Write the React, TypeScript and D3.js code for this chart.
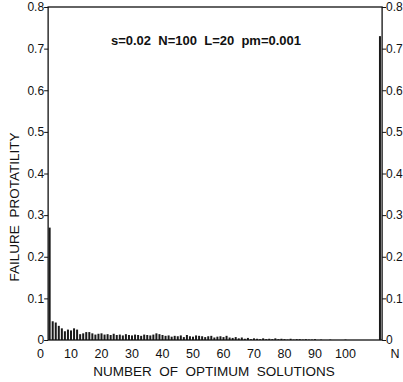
import React, { useEffect, useRef } from "react";
import * as d3 from "d3";

// number of optimum solutions (bin) and the failure probability
const solutionCounts = [
  3, 4, 5, 6, 7, 8, 9, 10, 11, 12, 13, 14, 15, 16, 17, 18, 19, 20, 21, 22, 23,
  24, 25, 26, 27, 28, 29, 30, 31, 32, 33, 34, 35, 36, 37, 38, 39, 40, 41, 42,
  43, 44, 45, 46, 47, 48, 49, 50, 51, 52, 53, 54, 55, 56, 57, 58, 59, 60, 61,
  62, 63, 64, 65, 66, 67, 68, 69, 70, 71, 72, 73, 74, 75, 76, 77, 78, 79, 80,
  81, 82, 83, 84, 85, 86, 87, 88, 89, 90, 92, 95, 100,
];
const failureProb = [
  0.27, 0.045, 0.042, 0.034, 0.028, 0.021, 0.025, 0.023, 0.028, 0.025, 0.014,
  0.016, 0.019, 0.019, 0.016, 0.013, 0.015, 0.016, 0.013, 0.014, 0.012, 0.015,
  0.012, 0.013, 0.011, 0.014, 0.012, 0.011, 0.013, 0.012, 0.01, 0.013, 0.012,
  0.011, 0.013, 0.016, 0.014, 0.012, 0.01, 0.011, 0.008, 0.01, 0.009, 0.011,
  0.007, 0.012, 0.009, 0.008, 0.011, 0.01, 0.009, 0.007, 0.009, 0.01, 0.006,
  0.008, 0.009, 0.007, 0.01, 0.006, 0.005, 0.007, 0.004, 0.006, 0.003, 0.005,
  0.002, 0.004, 0.003, 0.002, 0.004, 0.002, 0.003, 0.002, 0.004, 0.002, 0.003,
  0.002, 0.001, 0.003, 0.001, 0.002, 0.002, 0.001, 0.002, 0.001, 0.001, 0.002,
  0.001, 0.001, 0.001,
];
// the "all N solutions" bin at the far right
const nPosition = 111.3;
const nFailure = 0.73;

const xTickValues = [0, 10, 20, 30, 40, 50, 60, 70, 80, 90, 100];
const yTickValues = [0, 0.1, 0.2, 0.3, 0.4, 0.5, 0.6, 0.7, 0.8];

const title = "s=0.02  N=100  L=20  pm=0.001";
const xTitle = "NUMBER  OF  OPTIMUM  SOLUTIONS";
const yTitle = "FAILURE  PROTATILITY";

const App: React.FC = () => {
  const svgRef = useRef<SVGSVGElement | null>(null);

  useEffect(() => {
    if (!svgRef.current) return;
    const svg = d3.select(svgRef.current);
    svg.selectAll("*").remove();

    const font = "Liberation Sans, Arial, sans-serif";
    const x = d3.scaleLinear().domain([0, 100]).range([40.5, 345.5]);
    const y = d3.scaleLinear().domain([0, 0.8]).range([340, 7]);
    const left = x(2.5);
    const right = x(112);

    const data = solutionCounts.map((k, i) => ({ k, v: failureProb[i] }));
    data.push({ k: nPosition, v: nFailure });

    // bars
    svg
      .append("g")
      .selectAll("rect")
      .data(data)
      .enter()
      .append("rect")
      .attr("x", (d) => x(d.k) - 1)
      .attr("y", (d) => y(d.v))
      .attr("width", 2)
      .attr("height", (d) => y(0) - y(d.v))
      .attr("fill", "#1a1a1a");

    // frame
    svg
      .append("rect")
      .attr("x", left)
      .attr("y", y(0.8))
      .attr("width", right - left)
      .attr("height", y(0) - y(0.8))
      .attr("fill", "none")
      .attr("stroke", "#111")
      .attr("stroke-width", 1.3);

    const fmt = (d: d3.NumberValue) => (d === 0 ? "0" : d3.format(".1f")(d as number));
    const yLeft = d3.axisLeft(y).tickValues(yTickValues).tickSize(4).tickFormat(fmt);
    const yRight = d3.axisRight(y).tickValues(yTickValues).tickSize(4).tickFormat(fmt);

    const gl = svg.append("g").attr("transform", `translate(${left},0)`).call(yLeft);
    const gr = svg.append("g").attr("transform", `translate(${right},0)`).call(yRight);
    [gl, gr].forEach((g) => {
      g.select(".domain").remove();
      g.selectAll("line").attr("stroke", "#111");
      g.selectAll("text")
        .attr("font-family", font)
        .attr("font-size", 12)
        .attr("fill", "#111");
    });
    gl.selectAll("text").attr("x", -4);
    gr.selectAll("text").attr("x", 4);

    // x tick labels
    const xLabels = svg
      .append("g")
      .attr("font-family", font)
      .attr("font-size", 12.5)
      .attr("fill", "#111");
    xLabels
      .selectAll("text")
      .data(xTickValues)
      .enter()
      .append("text")
      .attr("x", (d) => x(d))
      .attr("y", 358)
      .attr("text-anchor", "middle")
      .text((d) => String(d));
    xLabels
      .append("text")
      .attr("x", x(nPosition) + 15)
      .attr("y", 358)
      .attr("text-anchor", "middle")
      .text("N");

    // titles
    svg
      .append("text")
      .attr("x", 206)
      .attr("y", 45)
      .attr("text-anchor", "middle")
      .attr("font-family", font)
      .attr("font-size", 13)
      .attr("font-weight", "bold")
      .attr("fill", "#111")
      .style("white-space", "pre")
      .text(title);

    svg
      .append("text")
      .attr("x", 214)
      .attr("y", 376)
      .attr("text-anchor", "middle")
      .attr("font-family", font)
      .attr("font-size", 13.5)
      .attr("fill", "#111")
      .style("white-space", "pre")
      .text(xTitle);

    svg
      .append("text")
      .attr("transform", "translate(19,207) rotate(-90)")
      .attr("text-anchor", "middle")
      .attr("font-family", font)
      .attr("font-size", 13.5)
      .attr("fill", "#111")
      .style("white-space", "pre")
      .text(yTitle);
  }, []);

  return (
    <svg
      ref={svgRef}
      width="403"
      height="382"
      style={{ position: "absolute", left: 0, top: 0, background: "#fff" }}
    ></svg>
  );
};

export default App;
